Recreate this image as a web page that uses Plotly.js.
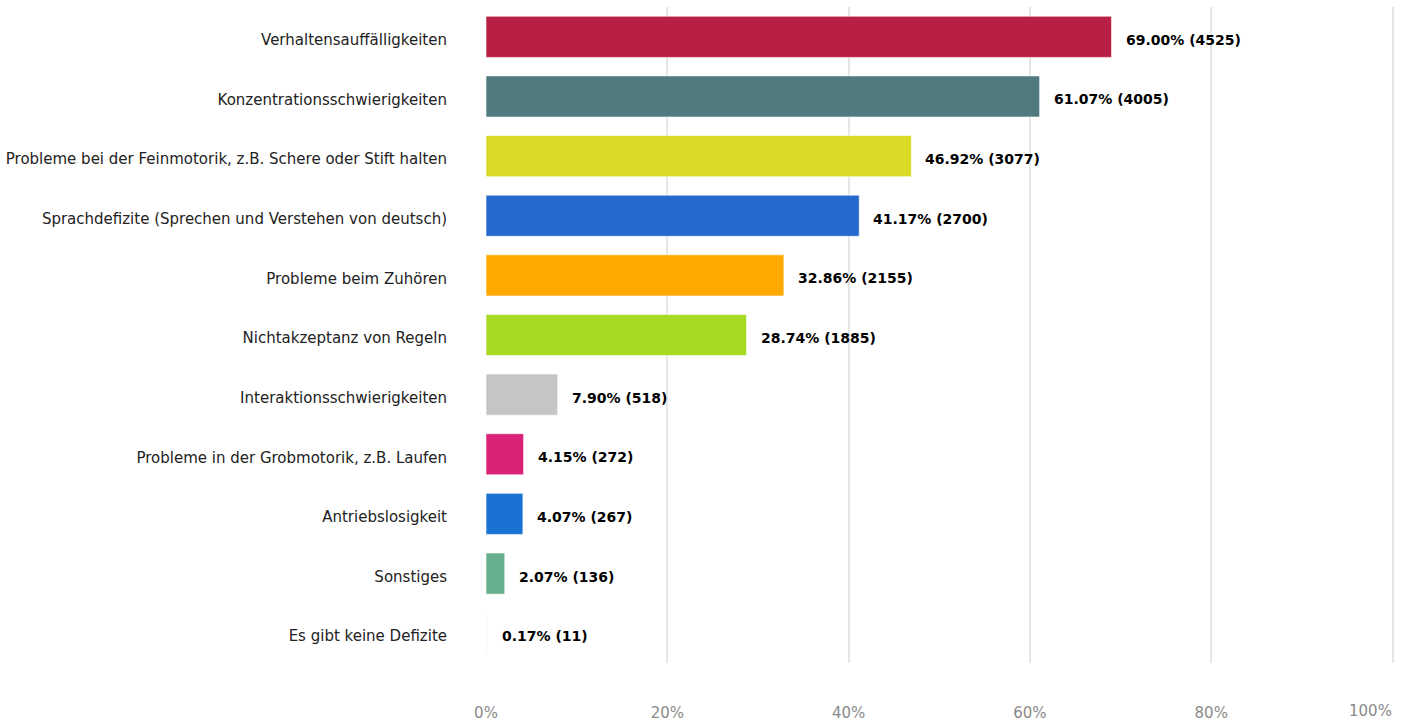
<!DOCTYPE html>
<html>
<head>
<meta charset="utf-8">
<script src="https://cdn.plot.ly/plotly-3.0.1.min.js"></script>
<style>html,body{margin:0;padding:0;background:#fff;}#chart{width:1408px;height:721px;}</style>
</head>
<body>
<div id="chart"></div>
<script>
const categories = [
  "Verhaltensauffälligkeiten",
  "Konzentrationsschwierigkeiten",
  "Probleme bei der Feinmotorik, z.B. Schere oder Stift halten",
  "Sprachdefizite (Sprechen und Verstehen von deutsch)",
  "Probleme beim Zuhören",
  "Nichtakzeptanz von Regeln",
  "Interaktionsschwierigkeiten",
  "Probleme in der Grobmotorik, z.B. Laufen",
  "Antriebslosigkeit",
  "Sonstiges",
  "Es gibt keine Defizite"
];
const percents = [69.00, 61.07, 46.92, 41.17, 32.86, 28.74, 7.90, 4.15, 4.07, 2.07, 0.17];
const counts = [4525, 4005, 3077, 2700, 2155, 1885, 518, 272, 267, 136, 11];
const colors = ["#b91f42", "#517a7f", "#d8da26", "#2569cf", "#fea800", "#a8da24",
                "#c5c5c5", "#db2277", "#1a73d3", "#67b08d", "#f4f4f4"];
const xTicks = [0, 20, 40, 60, 80, 100];
const xTickText = ["0%", "20%", "40%", "60%", "80%", "100%"];

const labels = percents.map((p, i) => p.toFixed(2) + "% (" + counts[i] + ")");

const trace = {
  type: "bar",
  orientation: "h",
  y: categories,
  x: percents,
  marker: { color: colors, line: { color: "rgba(255,255,255,0.6)", width: 1 } },
  hoverinfo: "none"
};

const annotations = percents.map((p, i) => ({
  x: p, y: categories[i], xref: "x", yref: "y",
  text: "<b>" + labels[i] + "</b>",
  showarrow: false, xanchor: "left", xshift: 12, yshift: -3,
  font: { family: "DejaVu Sans", size: 14, color: "#000" }
}));
// last x tick label kept inside the page, right-aligned to its gridline
annotations.push({
  x: xTicks[5], y: 0, xref: "x", yref: "paper",
  text: xTickText[5], showarrow: false, xanchor: "right", yanchor: "middle",
  xshift: 1, yshift: -48,
  font: { family: "DejaVu Sans", size: 15, color: "#8a8a8a" }
});

const layout = {
  width: 1408, height: 721,
  margin: { l: 486, r: 10, t: 7, b: 58 },
  paper_bgcolor: "#fff", plot_bgcolor: "#fff",
  font: { family: "DejaVu Sans", size: 15, color: "#222" },
  bargap: 0.31,
  showlegend: false,
  xaxis: {
    range: [0, 100.6],
    tickvals: xTicks, ticktext: xTickText.map((t, i) => i === 5 ? "" : t),
    showgrid: true, gridcolor: "#e6e6e6", gridwidth: 2,
    zeroline: false, showline: false,
    tickfont: { family: "DejaVu Sans", size: 15, color: "#8a8a8a" },
    ticklabelstandoff: 39
  },
  yaxis: {
    autorange: "reversed",
    showgrid: false, zeroline: false, showline: false,
    tickfont: { family: "DejaVu Sans", size: 15, color: "#222" },
    ticklabelstandoff: 38,
    ticklabelshift: -3
  },
  annotations: annotations
};

Plotly.newPlot("chart", [trace], layout, { displayModeBar: false, staticPlot: true });
</script>
</body>
</html>
